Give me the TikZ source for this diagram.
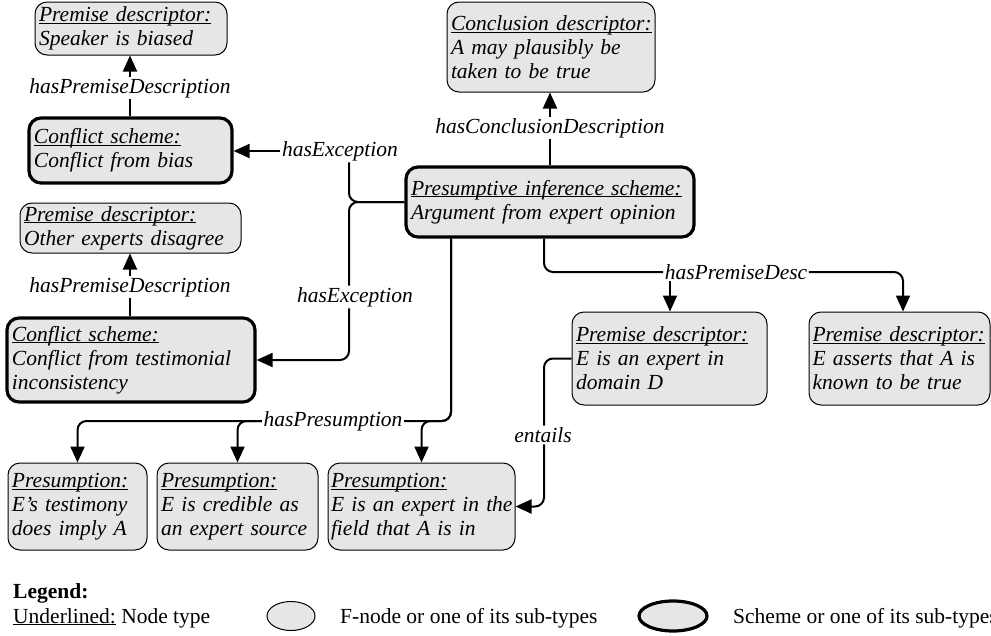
\documentclass[tikz,border=0pt]{standalone}
\usepackage{fontspec}
\setmainfont{Liberation Serif}
\usetikzlibrary{arrows.meta,shapes.geometric}
\definecolor{boxgray}{RGB}{230,230,230}
\newcommand\nodefont{\fontsize{21.5}{24}\selectfont\itshape}
\newcommand\legfont{\fontsize{21.5}{24}\selectfont\upshape}
\newcommand\ntype[1]{\underline{\raisebox{0pt}[\height][0pt]{#1}}}
\newcommand\oneline[1]{\mbox{#1}}
\tikzset{
  fbox/.style={draw, fill=boxgray, line width=1pt, rounded corners=12pt, inner xsep=0pt, inner ysep=0pt, align=left, font=\nodefont},
  sbox/.style={fbox, line width=3.2pt},
  lab/.style={font=\nodefont, inner sep=1.5pt},
  conn/.style={line width=2pt, rounded corners=9pt},
  arr/.style={conn, -{Triangle[length=16pt,width=14pt]}},
  legtext/.style={font=\legfont, anchor=west, inner sep=0pt},
  legell/.style={ellipse, draw, fill=boxgray, line width=1pt, minimum width=48pt, minimum height=29pt, inner sep=0pt},
}
\begin{document}
\begin{tikzpicture}[x=1pt,y=-1pt]
\useasboundingbox (0,0) rectangle (991,635);

% boxes
\node[fbox, minimum width=192pt, minimum height=53pt, text width=184pt] (b1) at (131,28.5)
  {\ntype{Premise descriptor:}\\\oneline{Speaker is biased}};
\node[sbox, minimum width=203pt, minimum height=65pt, text width=193pt] (b2) at (130.5,150.5)
  {\ntype{Conflict scheme:}\\\oneline{Conflict from bias}};
\node[fbox, minimum width=208pt, minimum height=90pt, text width=200pt] (b3) at (551,47)
  {\ntype{Conclusion descriptor:}\\\oneline{A may plausibly be}\\\oneline{taken to be true}};
\node[fbox, minimum width=221pt, minimum height=50pt, text width=213pt] (b4) at (130.5,228)
  {\ntype{Premise descriptor:}\\\oneline{Other experts disagree}};
\node[sbox, minimum width=248pt, minimum height=84pt, text width=238pt] (b5) at (131,360)
  {\ntype{Conflict scheme:}\\\oneline{Conflict from testimonial}\\\oneline{inconsistency}};
\node[sbox, minimum width=288pt, minimum height=70pt, text width=278pt] (b7) at (550,202)
  {\ntype{Presumptive inference scheme:}\\\oneline{Argument from expert opinion}};
\node[fbox, minimum width=195pt, minimum height=93pt, text width=187pt] (b8) at (669.5,358.5)
  {\ntype{Premise descriptor:}\\\oneline{E is an expert in}\\\oneline{domain D}};
\node[fbox, minimum width=181pt, minimum height=93pt, text width=174pt] (b9) at (899.5,358.5)
  {\ntype{Premise descriptor:}\\\oneline{E asserts that A is}\\\oneline{known to be true}};
\node[fbox, minimum width=139pt, minimum height=87pt, text width=131pt] (bA) at (77.5,506.5)
  {\ntype{Presumption:}\\\oneline{E’s testimony}\\\oneline{does imply A}};
\node[fbox, minimum width=161pt, minimum height=87pt, text width=153pt] (bB) at (237.5,506.5)
  {\ntype{Presumption:}\\\oneline{E is credible as}\\\oneline{an expert source}};
\node[fbox, minimum width=187pt, minimum height=87pt, text width=181pt] (bC) at (421.5,506.5)
  {\ntype{Presumption:}\\\oneline{E is an expert in the}\\\oneline{field that A is in}};

% hasPremiseDescription (top)
\node[lab] (l1) at (130,88) {hasPremiseDescription};
\draw[conn] (b2.north -| l1) -- (l1.south);
\draw[arr] (l1.north) -- (b1.south -| l1);

% hasPremiseDescription (second)
\node[lab] (l1b) at (130,287) {hasPremiseDescription};
\draw[conn] (b5.north -| l1b) -- (l1b.south);
\draw[arr] (l1b.north) -- (b4.south -| l1b);

% hasException (upper)
\node[lab] (l2) at (340,151) {hasException};
\coordinate (j1) at (349,202);
\draw[conn] (b7.west) -- (j1) -- (j1 |- l2.south);
\draw[arr] (l2.west) -- (b2.east |- l2.west);

% hasException (lower)
\node[lab] (l3) at (355,297) {hasException};
\draw[conn] (b7.west) -- (j1) -- (j1 |- l3.north);
\draw[arr] (j1 |- l3.south) |- (b5.east);

% hasConclusionDescription
\node[lab] (l4) at (550,128) {hasConclusionDescription};
\draw[conn] (b7.north -| l4) -- (l4.south);
\draw[arr] (l4.north) -- (b3.south -| l4);

% hasPremiseDesc
\node[lab] (l5) at (736,272) {hasPremiseDesc};
\coordinate (a8) at (670,0);
\draw[conn] ([xshift=-6pt]b7.south) |- (l5.west);
\draw[arr] (l5.south -| a8) -- (b8.north -| a8);
\draw[arr] (l5.east) -| ([xshift=3.5pt]b9.north);

% hasPresumption
\node[lab] (l6) at (333,421) {hasPresumption};
\coordinate (h1) at (451,421);
\draw[conn] ([xshift=-99pt]b7.south) |- (l6.east);
\draw[arr] ([xshift=-99pt]b7.south) -- (h1) -| (bC.north);
\draw[arr] (l6.west) -| (bA.north);
\draw[arr] (l6.west) -| (bB.north);

% entails
\node[lab] (l7) at (543,435) {entails};
\coordinate (ex) at (544,0);
\draw[conn] (b8.west) -| (l7.north -| ex);
\draw[arr] (l7.south -| ex) |- (bC.east);

% legend
\node[legtext, font=\legfont\bfseries] (lg) at (13,593) {Legend:};
\node[legtext] (lu) at (13,618) {\ntype{Underlined:} Node type};
\node[legell] (e1) at (291,616) {};
\node[legtext] (t1) at (340,618) {F-node or one of its sub-types};
\node[legell, line width=3.2pt, minimum width=68pt, minimum height=30pt] (e2) at (673,616) {};
\node[legtext] (t2) at (733,618) {Scheme or one of its sub-types};
\end{tikzpicture}
\end{document}
